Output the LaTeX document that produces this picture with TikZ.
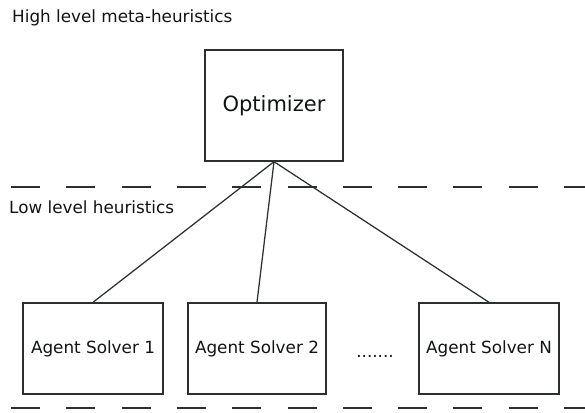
\documentclass[tikz,border=0pt]{standalone}
\usepackage{fontspec}
\setmainfont{DejaVu Sans}
\definecolor{ink}{HTML}{2B2F2F}
\definecolor{txt}{HTML}{111414}
\begin{document}
\begin{tikzpicture}[x=1pt,y=-1pt,
  box/.style={draw=ink,line width=1.4pt,inner sep=0pt,anchor=center,text=txt},
  lbl/.style={inner sep=0pt,text=txt,font=\fontsize{16.8}{20}\selectfont},
  sep/.style={draw=ink,line width=1.3pt,dash pattern=on 29pt off 26.3pt},
  conn/.style={draw=ink,line width=1.25pt}]
\useasboundingbox (0,0) rectangle (585,412);
\node[box,minimum width=138pt,minimum height=111pt,font=\fontsize{21}{24}\selectfont] (opt) at (274,105.5) {Optimizer};
\node[box,minimum width=140pt,minimum height=91pt,font=\fontsize{16.8}{20}\selectfont] (a1) at (93,348.5) {Agent Solver 1};
\node[box,minimum width=138pt,minimum height=91pt,font=\fontsize{16.8}{20}\selectfont] (a2) at (257,348.5) {Agent Solver 2};
\node[box,minimum width=140pt,minimum height=91pt,font=\fontsize{16.8}{20}\selectfont] (aN) at (489,348.5) {Agent Solver N};
\node[lbl,anchor=base west] (high) at (12,23) {High level meta-heuristics};
\node[lbl,anchor=base west] (low) at (9,213) {Low level heuristics};
\node[lbl,anchor=base] (dots) at (375,357) {.......};
\coordinate (s1a) at (11,187);
\coordinate (s1b) at (585,187);
\coordinate (s2a) at (11,408);
\coordinate (s2b) at (585,408);
\draw[sep] (s1a) -- (s1b);
\draw[sep] (s2a) -- (s2b);
\draw[conn] (opt.south) -- (a1.north);
\draw[conn] (opt.south) -- (a2.north);
\draw[conn] (opt.south) -- (aN.north);
\end{tikzpicture}
\end{document}
